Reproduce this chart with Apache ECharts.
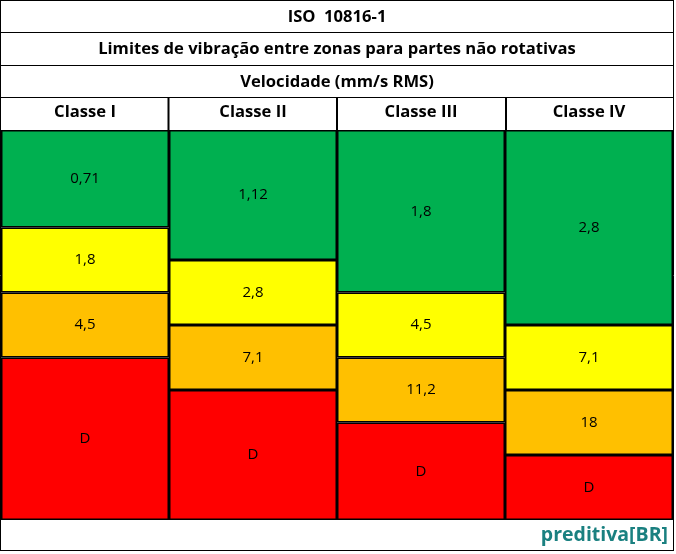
<!DOCTYPE html>
<html>
<head>
<meta charset="utf-8">
<script src="https://cdn.jsdelivr.net/npm/echarts@6/dist/echarts.min.js"></script>
<style>html,body{margin:0;padding:0;background:#fff;}#c{width:676px;height:554px;}</style>
</head>
<body>
<div id="c"></div>
<script>
const titleLines = ['ISO  10816-1', 'Limites de vibração entre zonas para partes não rotativas', 'Velocidade (mm/s RMS)'];
const classes = ['Classe I', 'Classe II', 'Classe III', 'Classe IV'];
const zoneNames = ['A', 'B', 'C', 'D'];
const zoneColors = ['#00b050', '#ffff00', '#ffc000', '#ff0000'];
// zone heights (in rows of the table) per class
const zoneA = [3, 4, 5, 6];
const zoneB = [2, 2, 2, 2];
const zoneC = [2, 2, 2, 2];
const zoneD = [5, 4, 3, 2];
// limit labels shown inside each zone
const labelA = ['0,71', '1,12', '1,8', '2,8'];
const labelB = ['1,8', '2,8', '4,5', '7,1'];
const labelC = ['4,5', '7,1', '11,2', '18'];
const labelD = ['D', 'D', 'D', 'D'];
const brand = 'preditiva[BR]';

const zoneValues = [zoneA, zoneB, zoneC, zoneD];
const zoneLabels = [labelA, labelB, labelC, labelD];
const FONT = '"Open Sans", "Noto Sans", sans-serif';

const chart = echarts.init(document.getElementById('c'), null, {renderer: 'canvas'});

const series = zoneValues.map((vals, z) => ({
  name: zoneNames[z],
  type: 'bar',
  stack: 'zones',
  barWidth: '100%',
  barCategoryGap: 0,
  itemStyle: {color: zoneColors[z], borderColor: '#000', borderWidth: 1.5},
  label: {
    show: true, position: 'inside', color: '#000', fontFamily: FONT, fontSize: 15,
    formatter: p => zoneLabels[z][p.dataIndex]
  },
  emphasis: {disabled: true},
  data: vals
}));

const L = 0.5, R = 673.5;
const hLine = y => ({type: 'line', shape: {x1: L, y1: y, x2: R, y2: y}, style: {stroke: '#000', lineWidth: 1}, silent: true});
const vLine = (x, y1, y2, w) => ({type: 'line', shape: {x1: x, y1: y1, x2: x, y2: y2}, style: {stroke: '#000', lineWidth: w}, silent: true});
const headerText = (txt, y) => ({type: 'text', x: 337, y: y, style: {text: txt, fill: '#000', font: 'bold 16.6px ' + FONT, textAlign: 'center', textVerticalAlign: 'middle'}, silent: true});

chart.setOption({
  animation: false,
  backgroundColor: '#fff',
  grid: {left: 1, top: 130, width: 672, height: 390, containLabel: false},
  xAxis: {
    type: 'category', data: classes, position: 'top',
    axisLine: {show: false}, axisTick: {show: false},
    axisLabel: {color: '#000', fontWeight: 'bold', fontSize: 16.6, fontFamily: FONT, margin: 9}
  },
  yAxis: {type: 'value', inverse: true, min: 0, max: 12, show: false},
  series: series,
  graphic: [
    hLine(0.5), hLine(32.5), hLine(65.5), hLine(97.5), hLine(550.5),
    vLine(0.5, 0, 551, 1), vLine(673.5, 0, 551, 1),
    vLine(168.5, 97.5, 130, 2), vLine(337, 97.5, 130, 2), vLine(506, 97.5, 130, 2),
    headerText(titleLines[0], 17),
    headerText(titleLines[1], 49),
    headerText(titleLines[2], 82),
    {type: 'text', x: 668, y: 535, style: {text: brand, fill: '#1a8080', font: 'bold 19.5px ' + FONT, textAlign: 'right', textVerticalAlign: 'middle'}, silent: true}
  ]
});
</script>
</body>
</html>
